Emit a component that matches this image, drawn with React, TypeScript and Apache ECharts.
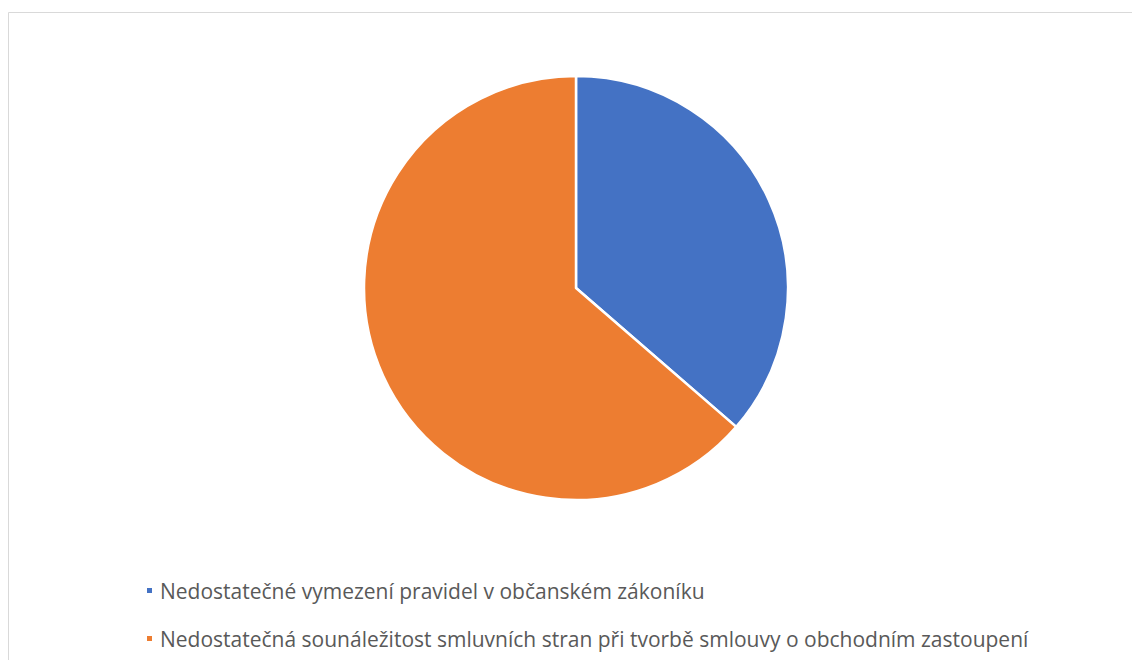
import React, { useEffect, useRef } from "react";
import * as echarts from "echarts";

const categories = [
  "Nedostatečné vymezení pravidel v občanském zákoníku",
  "Nedostatečná sounáležitost smluvních stran při tvorbě smlouvy o obchodním zastoupení",
];
const values = [4, 7];
const colors = ["#4472C4", "#ED7D31"];

export default function App() {
  const ref = useRef<HTMLDivElement>(null);
  useEffect(() => {
    const chart = echarts.init(ref.current!, null, { renderer: "svg" });
    chart.setOption({
      animation: false,
      backgroundColor: "#ffffff",
      graphic: [
        {
          type: "rect",
          shape: { x: 8.5, y: 12.5, width: 1140, height: 660 },
          style: { fill: "none", stroke: "#d9d9d9", lineWidth: 1 },
          silent: true,
        },
      ],
      legend: {
        orient: "vertical",
        left: 140,
        top: 575,
        itemWidth: 7,
        itemHeight: 7,
        itemGap: 27,
        icon: "rect",
        textStyle: {
          fontFamily: "Open Sans",
          fontSize: 21,
          color: "#595959",
          padding: [0, 0, 0, 2],
        },
        data: categories,
      },
      series: [
        {
          type: "pie",
          center: [576, 288],
          radius: 212,
          startAngle: 90,
          clockwise: true,
          label: { show: false },
          labelLine: { show: false },
          itemStyle: { borderColor: "#ffffff", borderWidth: 2.5 },
          data: categories.map((name, i) => ({
            name,
            value: values[i],
            itemStyle: { color: colors[i] },
          })),
        },
      ],
    });
    return () => chart.dispose();
  }, []);
  return (
    <div
      ref={ref}
      style={{ position: "absolute", left: 0, top: 0, width: 1132, height: 660 }}
    />
  );
}
